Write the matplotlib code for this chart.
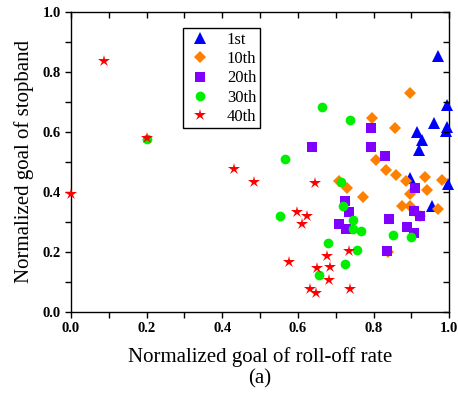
import matplotlib
matplotlib.use("Agg")
import matplotlib.pyplot as plt
from matplotlib.ticker import MultipleLocator

plt.rcParams["font.family"] = ["Liberation Serif", "DejaVu Serif"]

# generation data: (roll-off goal, stopband goal)
gen1_x = [0.969, 0.995, 0.959, 0.993, 0.991, 0.915, 0.929, 0.919, 0.896, 0.997, 0.955]
gen1_y = [0.853, 0.688, 0.628, 0.617, 0.602, 0.599, 0.574, 0.540, 0.447, 0.427, 0.351]

gen10_x = [0.896, 0.796, 0.857, 0.806, 0.834, 0.859, 0.936, 0.981, 0.886, 0.709,
           0.729, 0.941, 0.896, 0.773, 0.876, 0.897, 0.969, 0.923, 0.838]
gen10_y = [0.730, 0.647, 0.613, 0.507, 0.474, 0.456, 0.450, 0.439, 0.437, 0.436,
           0.413, 0.406, 0.391, 0.384, 0.353, 0.353, 0.341, 0.319, 0.199]

gen20_x = [0.794, 0.638, 0.794, 0.831, 0.910, 0.724, 0.907, 0.734, 0.923, 0.841,
           0.708, 0.727, 0.889, 0.908, 0.836]
gen20_y = [0.614, 0.548, 0.550, 0.519, 0.413, 0.370, 0.337, 0.331, 0.320, 0.308,
           0.293, 0.277, 0.282, 0.261, 0.201]

gen30_x = [0.201, 0.663, 0.738, 0.567, 0.715, 0.718, 0.552, 0.745, 0.745, 0.766,
           0.852, 0.900, 0.680, 0.756, 0.724, 0.655]
gen30_y = [0.576, 0.681, 0.639, 0.509, 0.432, 0.353, 0.318, 0.307, 0.277, 0.270,
           0.256, 0.250, 0.230, 0.204, 0.159, 0.123]

gen40_x = [0.000, 0.088, 0.201, 0.432, 0.483, 0.644, 0.598, 0.623, 0.611, 0.736,
           0.678, 0.575, 0.685, 0.649, 0.683, 0.631, 0.737, 0.648]
gen40_y = [0.391, 0.836, 0.578, 0.477, 0.434, 0.430, 0.331, 0.319, 0.293, 0.201,
           0.186, 0.164, 0.150, 0.147, 0.106, 0.077, 0.077, 0.061]

series = [
    ("1st", gen1_x, gen1_y, "^", "#0000ff", 8.5),
    ("10th", gen10_x, gen10_y, "D", "#ff8000", 6.5),
    ("20th", gen20_x, gen20_y, "s", "#8000ff", 6.5),
    ("30th", gen30_x, gen30_y, "o", "#00ee00", 7),
    ("40th", gen40_x, gen40_y, "*", "#ff0000", 9),
]

fig = plt.figure(figsize=(4.58, 3.95), dpi=100)
pos = [0.155, 0.211, 0.826, 0.759]
ax = fig.add_axes(pos)

for name, xs, ys, mk, col, ms in series:
    ax.plot(xs, ys, linestyle="none", marker=mk, color=col, markersize=ms,
            markeredgewidth=0, label=name, clip_on=False, zorder=3)

ax.set_xlim(0, 1.0)
ax.set_ylim(0, 1.0)
for axis in (ax.xaxis, ax.yaxis):
    axis.set_major_locator(MultipleLocator(0.2))
    axis.set_minor_locator(MultipleLocator(0.1))
    axis.set_major_formatter(plt.FuncFormatter(lambda v, p: f"{v:.1f}"))
ax.tick_params(which="both", direction="out", length=4, width=1, labelsize=10.5)
for lab in ax.get_xticklabels() + ax.get_yticklabels():
    lab.set_fontweight("bold")

# mirrored ticks on top / right, pointing inward
ax2 = fig.add_axes(pos, frameon=False)
ax2.set_xlim(0, 1.0)
ax2.set_ylim(0, 1.0)
ax2.xaxis.set_major_locator(MultipleLocator(0.2))
ax2.xaxis.set_minor_locator(MultipleLocator(0.1))
ax2.yaxis.set_major_locator(MultipleLocator(0.2))
ax2.yaxis.set_minor_locator(MultipleLocator(0.1))
ax2.tick_params(which="both", direction="in", length=4, width=1,
                left=False, bottom=False, top=True, right=True,
                labelleft=False, labelbottom=False)
ax2.patch.set_visible(False)

for sp in ax.spines.values():
    sp.set_linewidth(1)

ax.set_xlabel("Normalized goal of roll-off rate\n(a)", fontsize=15, labelpad=9,
              linespacing=1.1)
ax.set_ylabel("Normalized goal of stopband", fontsize=15, labelpad=6)

leg = ax.legend(loc="upper left", bbox_to_anchor=(0.295, 0.945), fontsize=12,
                frameon=True, fancybox=False, edgecolor="black", framealpha=1,
                handletextpad=0.75, borderpad=0.2, labelspacing=0.2,
                handlelength=1.7, borderaxespad=0)
leg.get_frame().set_linewidth(1)
leg.set_zorder(5)

fig.savefig("out.png", dpi=100)
